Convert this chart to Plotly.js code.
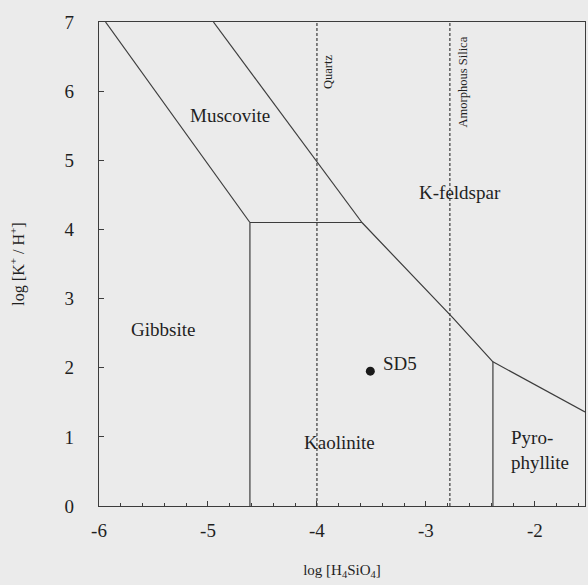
<!DOCTYPE html>
<html>
<head>
<meta charset="utf-8">
<script src="https://cdn.plot.ly/plotly-3.0.1.min.js"></script>
<style>html,body{margin:0;padding:0;background:#ebebeb;}</style>
</head>
<body>
<div id="chart" style="width:588px;height:585px;"></div>
<script>
// ---- Data ----
// Phase boundaries: log[H4SiO4] (x) vs log[K+/H+] (y)
const gibbsiteMuscoviteX = [-5.94, -4.615];
const gibbsiteMuscoviteY = [7.0, 4.10];
const muscoviteKfeldsparX = [-4.95, -3.587];
const muscoviteKfeldsparY = [7.0, 4.10];
const muscoviteKaoliniteX = [-4.615, -3.587];
const muscoviteKaoliniteY = [4.10, 4.10];
const gibbsiteKaoliniteX = [-4.615, -4.615];
const gibbsiteKaoliniteY = [4.10, 0];
const kaoliniteKfeldsparX = [-3.587, -2.752, -2.385];
const kaoliniteKfeldsparY = [4.10, 2.72, 2.085];
const pyrophylliteKfeldsparX = [-2.385, -1.54];
const pyrophylliteKfeldsparY = [2.085, 1.36];
const kaolinitePyrophylliteX = [-2.385, -2.385];
const kaolinitePyrophylliteY = [2.085, 0];
// Silica saturation lines
const quartzX = [-4.0, -4.0];
const amorphousSilicaX = [-2.78, -2.78];
const saturationY = [0, 7];
// Sample
const sampleNames = ['SD5'];
const sampleX = [-3.51];
const sampleY = [1.95];
// Field labels
const fieldNames = ['Muscovite', 'K-feldspar', 'Gibbsite', 'Kaolinite', 'Pyro-<br>phyllite'];
const saturationNames = ['Quartz', 'Amorphous Silica'];
// Axis ticks
const xTickVals = [-6, -5, -4, -3, -2];
const xTickText = ['-6', '-5', '-4', '-3', '-2'];
const yTickVals = [0, 1, 2, 3, 4, 5, 6, 7];
const yTickText = ['0', '1', '2', '3', '4', '5', '6', '7'];

// ---- Styling ----
const LINE = '#3c3c3c';
const TXT = '#1f1f1f';
const FONT = 'Liberation Serif, Times New Roman, serif';

function boundary(x, y) {
  return {x: x, y: y, mode: 'lines', type: 'scatter', hoverinfo: 'skip',
          line: {color: LINE, width: 1.2}, showlegend: false};
}
function dashed(x, y) {
  return {x: x, y: y, mode: 'lines', type: 'scatter', hoverinfo: 'skip',
          line: {color: LINE, width: 1.2, dash: '3px,2px'}, showlegend: false};
}

const traces = [
  boundary(gibbsiteMuscoviteX, gibbsiteMuscoviteY),
  boundary(muscoviteKfeldsparX, muscoviteKfeldsparY),
  boundary(muscoviteKaoliniteX, muscoviteKaoliniteY),
  boundary(gibbsiteKaoliniteX, gibbsiteKaoliniteY),
  boundary(kaoliniteKfeldsparX, kaoliniteKfeldsparY),
  boundary(pyrophylliteKfeldsparX, pyrophylliteKfeldsparY),
  boundary(kaolinitePyrophylliteX, kaolinitePyrophylliteY),
  dashed(quartzX, saturationY),
  dashed(amorphousSilicaX, saturationY),
  {x: sampleX, y: sampleY, mode: 'markers', type: 'scatter', showlegend: false,
   marker: {color: '#1a1a1a', size: 9}}
];

// label placements (style, kept out of data arrays)
const fieldPos = [
  {x: -4.80, y: 5.65, xanchor: 'center'},
  {x: -2.69, y: 4.53, xanchor: 'center'},
  {x: -5.41, y: 2.55, xanchor: 'center'},
  {x: -3.79, y: 0.92, xanchor: 'center'},
  {x: -2.235, y: 0.81, xanchor: 'left'}
];
const satPos = [
  {x: -3.905, y: 6.28},
  {x: -2.66, y: 6.14}
];

const annotations = [];
fieldNames.forEach((t, i) => {
  annotations.push({x: fieldPos[i].x, y: fieldPos[i].y, xref: 'x', yref: 'y', text: t,
    showarrow: false, xanchor: fieldPos[i].xanchor, yanchor: 'middle', align: 'left',
    font: {family: FONT, size: 19, color: TXT}});
});
saturationNames.forEach((t, i) => {
  annotations.push({x: satPos[i].x, y: satPos[i].y, xref: 'x', yref: 'y', text: t,
    showarrow: false, textangle: -90, xanchor: 'center', yanchor: 'middle',
    font: {family: FONT, size: 12.5, color: TXT}});
});
sampleNames.forEach((t, i) => {
  annotations.push({x: sampleX[i], y: sampleY[i], xref: 'x', yref: 'y', text: t,
    showarrow: false, xanchor: 'left', yanchor: 'middle', xshift: 11, yshift: 8,
    font: {family: FONT, size: 19, color: TXT}});
});

const layout = {
  width: 588, height: 585,
  margin: {l: 99, r: 3, t: 22, b: 79},
  paper_bgcolor: '#ebebeb', plot_bgcolor: '#ebebeb',
  font: {family: FONT, color: TXT},
  showlegend: false,
  xaxis: {
    range: [-6, -1.54], tickvals: xTickVals, ticktext: xTickText,
    ticks: 'inside', ticklen: 5, tickcolor: LINE,
    minor: {dtick: 0.2, tick0: -6, ticks: 'inside', ticklen: 3, tickcolor: LINE},
    showline: true, mirror: true, linecolor: LINE, linewidth: 1.2,
    showgrid: false, zeroline: false,
    tickfont: {family: FONT, size: 19, color: TXT}, ticklabelstandoff: 7,
    title: {text: 'log [H<sub>4</sub>SiO<sub>4</sub>]', font: {family: FONT, size: 15, color: TXT}, standoff: 24},
    automargin: false
  },
  yaxis: {
    range: [0, 7], tickvals: yTickVals, ticktext: yTickText,
    ticks: 'inside', ticklen: 5, tickcolor: LINE,
    showline: true, mirror: true, linecolor: LINE, linewidth: 1.2,
    showgrid: false, zeroline: false,
    tickfont: {family: FONT, size: 19, color: TXT}, ticklabelstandoff: 20,
    title: {text: 'log [K<sup>+</sup> / H<sup>+</sup>]', font: {family: FONT, size: 16, color: TXT}, standoff: 36},
    automargin: false
  },
  annotations: annotations
};

Plotly.newPlot('chart', traces, layout, {displayModeBar: false, staticPlot: true});
</script>
</body>
</html>
